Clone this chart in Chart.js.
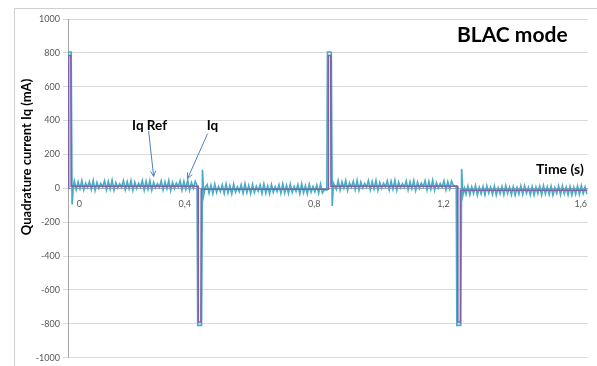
<!DOCTYPE html>
<html>
<head>
<meta charset="utf-8">
<script src="https://cdn.jsdelivr.net/npm/chart.js@4.4.1/dist/chart.umd.min.js"></script>
<style>
  html, body { margin: 0; padding: 0; background: #fff; }
</style>
</head>
<body>
<canvas id="chart" width="597" height="366"></canvas>
<script>
// ── data (time in ms, current in mA) ─────────────────────────────────────────

var iqTime = [
  0, 1, 10, 13, 17,
  20, 26, 32, 38, 44, 50, 56, 62, 68, 74,
  80, 86, 92, 98, 104, 110, 116, 122, 128, 134,
  140, 146, 152, 158, 164, 170, 176, 182, 188, 194,
  200, 206, 212, 218, 224, 230, 236, 242, 248, 254,
  260, 266, 272, 278, 284, 290, 296, 302, 308, 314,
  320, 326, 332, 338, 344, 350, 356, 362, 368, 374,
  380, 386, 392, 398, 404,
  410, 412, 424, 427, 431, 436,
  442, 448, 454, 460, 466, 472, 478, 484, 490, 496,
  502, 508, 514, 520, 526, 532, 538, 544, 550, 556,
  562, 568, 574, 580, 586, 592, 598, 604, 610, 616,
  622, 628, 634, 640, 646, 652, 658, 664, 670, 676,
  682, 688, 694, 700, 706, 712, 718, 724, 730, 736,
  742, 748, 754, 760, 766, 772, 778, 784, 790, 796,
  802, 808, 814,
  822, 824, 836, 839, 843, 848,
  852, 858, 864, 870, 876, 882, 888, 894, 900, 906,
  912, 918, 924, 930, 936, 942, 948, 954, 960, 966,
  972, 978, 984, 990, 996, 1002, 1008, 1014, 1020, 1026,
  1032, 1038, 1044, 1050, 1056, 1062, 1068, 1074, 1080, 1086,
  1092, 1098, 1104, 1110, 1116, 1122, 1128, 1134, 1140, 1146,
  1152, 1158, 1164, 1170, 1176, 1182, 1188, 1194, 1200, 1206,
  1212, 1218, 1224,
  1233, 1235, 1247, 1250, 1254, 1259,
  1264, 1270, 1276, 1282, 1288, 1294, 1300, 1306, 1312, 1318,
  1324, 1330, 1336, 1342, 1348, 1354, 1360, 1366, 1372, 1378,
  1384, 1390, 1396, 1402, 1408, 1414, 1420, 1426, 1432, 1438,
  1444, 1450, 1456, 1462, 1468, 1474, 1480, 1486, 1492, 1498,
  1504, 1510, 1516, 1522, 1528, 1534, 1540, 1546, 1552, 1558,
  1564, 1570, 1576, 1582, 1588, 1594, 1600, 1606, 1612, 1618,
  1624, 1630, 1636, 1642, 1648
];

var iqCurrent = [
  0, 805, 805, -95, 10,
  42, -8, 38, -2, 45, -10, 30, 5, 40, -6,
  46, -12, 35, 0, 28, 8, 44, -9, 40, -4,
  47, -11, 33, 2, 26, 6, 45, -8, 39, -3,
  44, -12, 36, 0, 29, 7, 46, -10, 41, -5,
  45, -11, 34, 3, 27, 5, 43, -9, 38, -2,
  46, -12, 35, 0, 30, 8, 44, -10, 40, -5,
  47, -11, 33, 1, 40,
  15, -810, -810, 110, -40, 5,
  22, -28, 18, -30, 25, -24, 10, -18, 20, -30,
  26, -27, 15, -32, 24, -22, 8, -20, 21, -29,
  27, -26, 16, -31, 23, -25, 12, -17, 19, -30,
  25, -28, 14, -32, 22, -23, 9, -19, 20, -29,
  26, -27, 17, -30, 24, -24, 11, -18, 21, -31,
  27, -26, 15, -32, 23, -22, 10, -20, 19, -28,
  25, -27, -10,
  -10, 805, 805, -105, 30, 10,
  -6, 44, -10, 38, 0, 46, -12, 32, 6, 42,
  -8, 47, -11, 36, 2, 28, 7, 45, -9, 40,
  -4, 46, -12, 34, 0, 29, 8, 44, -10, 41,
  -5, 47, -11, 35, 3, 27, 5, 43, -9, 39,
  -2, 46, -12, 36, 0, 30, 8, 45, -10, 40,
  -6, 47, -11, 33, 1, 28, 6, 44, -8, 38,
  -3, 42, 15,
  15, -810, -810, 115, -40, 0,
  -35, 12, -38, 8, -30, 15, -40, 5, -33, 10,
  -39, 14, -28, 6, -36, 12, -40, 3, -32, 11,
  -37, 15, -30, 7, -38, 9, -40, 4, -34, 13,
  -36, 14, -29, 5, -39, 10, -40, 6, -31, 12,
  -38, 15, -33, 8, -36, 11, -40, 2, -30, 13,
  -37, 14, -32, 6, -39, 10, -40, 5, -34, 12,
  -36, 15, -30, 8, -35
];

var refTime    = [1, 2, 9, 10, 413, 414, 422, 423, 826, 827, 834, 835, 1237, 1238, 1245, 1246, 1650];
var refCurrent = [0, 785, 785, 12, 12, -790, -790, -5, -5, 785, 785, 12, 12, -790, -790, -12, -12];

// time axis labels and where they sit along the axis (ms)
var xTickLabels = ["0", "0,4", "0,8", "1,2", "1,6"];
var xTickAt     = [36, 371, 782, 1192, 1628];

// callouts: text position and arrow in data units
var callouts = [
  { text: "Iq Ref", tx: 259, ty: 368, fx: 256, fy: 339, ex: 272, ey: 70 },
  { text: "Iq",     tx: 459, ty: 368, fx: 443, fy: 322, ex: 380, ey: 58 }
];

// ── helpers ───────────────────────────────────────────────────────────────────

function toPoints(ts, vs) {
  return ts.map(function(t, i) { return { x: t, y: vs[i] }; });
}

function drawArrow(ctx, x1, y1, x2, y2) {
  var ang = Math.atan2(y2 - y1, x2 - x1);
  var h = 6;
  ctx.beginPath();
  ctx.moveTo(x1, y1);
  ctx.lineTo(x2, y2);
  ctx.moveTo(x2 - h * Math.cos(ang - 0.45), y2 - h * Math.sin(ang - 0.45));
  ctx.lineTo(x2, y2);
  ctx.lineTo(x2 - h * Math.cos(ang + 0.45), y2 - h * Math.sin(ang + 0.45));
  ctx.stroke();
}

var overlay = {
  id: "overlay",
  beforeDraw: function(c) {
    var ctx = c.ctx;
    ctx.save();
    ctx.strokeStyle = "#cfcfcf";
    ctx.lineWidth = 1;
    ctx.beginPath();
    ctx.moveTo(14.5, 366);
    ctx.lineTo(14.5, 8.5);
    ctx.lineTo(597, 8.5);
    ctx.stroke();
    ctx.restore();
  },
  afterDraw: function(c) {
    var ctx = c.ctx, xs = c.scales.x, ys = c.scales.y;
    ctx.save();
    ctx.fillStyle = "#000";
    ctx.textBaseline = "middle";

    ctx.font = "bold 21px Lato";
    ctx.textAlign = "left";
    ctx.fillText("BLAC mode", 457, 35);

    ctx.font = "bold 14px Lato";
    ctx.fillText("Time (s)", 536, 169);

    ctx.font = "bold 13.5px Lato";
    ctx.textAlign = "center";
    ctx.strokeStyle = "#4f81bd";
    ctx.lineWidth = 1;
    callouts.forEach(function(a) {
      ctx.fillText(a.text, xs.getPixelForValue(a.tx), ys.getPixelForValue(a.ty));
      drawArrow(ctx,
        xs.getPixelForValue(a.fx), ys.getPixelForValue(a.fy),
        xs.getPixelForValue(a.ex), ys.getPixelForValue(a.ey));
    });

    ctx.font = "bold 13px Lato";
    ctx.translate(27, 157);
    ctx.rotate(-Math.PI / 2);
    ctx.fillText("Quadrature current Iq (mA)", 0, 0);
    ctx.restore();
  }
};

// ── chart ─────────────────────────────────────────────────────────────────────

var tickFont = { family: "Lato", size: 9 };

new Chart(document.getElementById("chart").getContext("2d"), {
  type: "line",
  data: {
    datasets: [
      {
        label: "Iq",
        data: toPoints(iqTime, iqCurrent),
        borderColor: "#4bacc6",
        borderWidth: 1.7,
        pointRadius: 0,
        tension: 0,
        order: 2
      },
      {
        label: "Iq Ref",
        data: toPoints(refTime, refCurrent),
        borderColor: "#7d63a8",
        borderWidth: 1.5,
        pointRadius: 0,
        tension: 0,
        order: 1
      }
    ]
  },
  options: {
    responsive: false,
    animation: false,
    layout: { padding: { left: 0, top: 19, right: 7, bottom: 5 } },
    plugins: {
      legend: { display: false },
      tooltip: { enabled: false }
    },
    scales: {
      x: {
        type: "linear",
        position: { y: 0 },
        min: 0,
        max: 1650,
        grid: { display: false, drawTicks: false },
        border: { display: true, color: "#a6a6a6" },
        afterBuildTicks: function(s) {
          s.ticks = xTickAt.map(function(v) { return { value: v }; });
        },
        ticks: {
          padding: 10,
          color: "#595959",
          font: tickFont,
          maxRotation: 0,
          autoSkip: false,
          callback: function(v, i) { return xTickLabels[i]; }
        }
      },
      y: {
        min: -1000,
        max: 1000,
        grid: { color: "#d9d9d9", tickLength: 5 },
        border: { color: "#a6a6a6" },
        ticks: {
          stepSize: 200,
          color: "#595959",
          font: tickFont,
          padding: 3,
          callback: function(v) { return String(v); }
        },
        afterFit: function(s) { s.width = 68; }
      }
    }
  },
  plugins: [overlay]
});
</script>
</body>
</html>
